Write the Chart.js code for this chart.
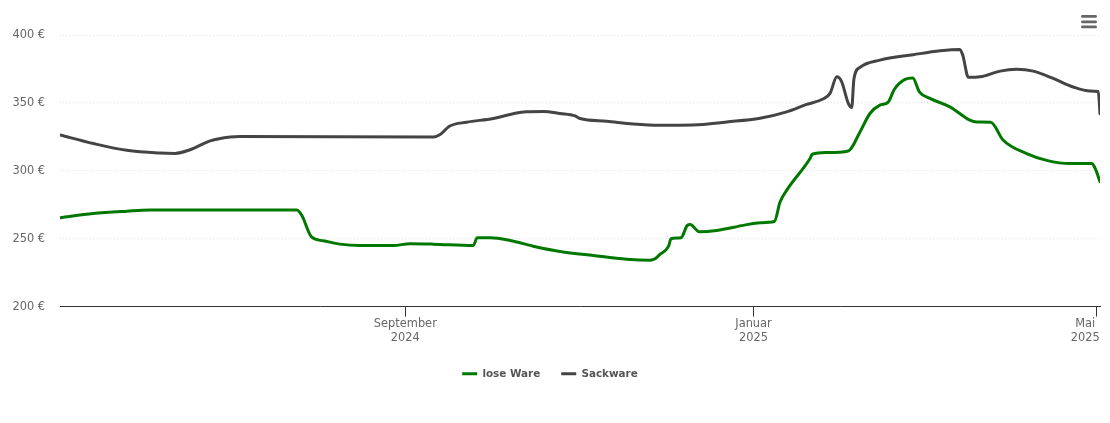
<!DOCTYPE html>
<html lang="de">
<head>
<meta charset="utf-8">
<title>Preisentwicklung</title>
<script src="https://cdn.jsdelivr.net/npm/chart.js@4"></script>
<style>
    html, body { margin: 0; background: #fff; }
    #wrap { width: 1110px; height: 423px; }
</style>
</head>
<body>
<div id="wrap"><canvas id="price-chart" width="1110" height="423"></canvas></div>
<script>
// x values are days counted from 1 September 2024
var looseDays = [-121, -109.4, -97.5, -89.5, -38, -36.3, -32.8, -28.8, -22.9, -15.9, -4.2, 1.6, 9.7, 23.8, 25.2, 29.7, 36.7, 44.8, 54.2, 65.9,
    77.6, 85.7, 87.5, 89.2, 92.2, 93.1, 96.6, 98.8, 99.8, 103, 109.1, 118.4, 124.3, 129.3, 131.3, 133.6, 141.8, 142.6, 147.6, 155.2,
    159.3, 162.8, 166.3, 169.2, 171.3, 175.1, 177.8, 180.1, 183.8, 190.8, 197.8, 200.2, 205.1, 209.5, 217.7, 224.7, 232.9, 240.5, 241.7, 243.4];
var looseValues = [265.5, 268.6, 270.3, 271.1, 271.1, 267.2, 251.1, 248.5, 246, 245, 245, 246.3, 246, 245, 250.7, 250.7, 248.7, 244.5, 240.6, 237.6,
    234.9, 234.2, 235.2, 238.4, 244.3, 250, 250.7, 259.8, 260.5, 255.1, 256.1, 259.8, 261.8, 262.7, 277, 285.6, 309, 312.2, 313.4, 314.6,
    328.6, 342.2, 348.3, 350.6, 359.9, 367.3, 368.3, 358.2, 353.3, 347.1, 337.3, 336, 335.8, 322.5, 312.7, 307.7, 305.3, 305.3, 301.8, 292];

var sackDays = [-121, -109.3, -97.6, -86, -80.7, -75.4, -68.4, -61.4, -58, 9.8, 12.2, 15.4, 21.5, 30.8, 36.7, 42.5, 48.4, 54.2, 59.5, 61.2,
    70.6, 79.9, 89.2, 100.9, 112.6, 124.3, 133.6, 140.6, 146.5, 148.8, 151.2, 152.9, 155.2, 156.4, 157.2, 159.3, 166.3, 178, 187.4, 194.3,
    195.3, 197.3, 201.4, 208.4, 214.2, 220, 227, 234, 239.9, 242.8, 243.4];
var sackValues = [326.4, 320.1, 315.1, 313.1, 312.8, 315.5, 322, 324.9, 325.2, 324.9, 326.7, 332.8, 335.8, 338.5, 341.5, 343.4, 343.7, 342.2, 340.4, 338.5,
    336.5, 334.5, 333.6, 333.8, 336, 338.7, 343.4, 348.9, 353, 357, 369.2, 365.5, 349.6, 346.6, 368, 376.2, 381.5, 385.5, 388.4, 389.4,
    385.2, 368.8, 369.2, 373.4, 374.7, 373.4, 368, 361.7, 358.7, 358.4, 342];

var seriesNames = ['lose Ware', 'Sackware'];
var yTicks = [200, 250, 300, 350, 400];
var xTicks = [0, 122, 242];
var xTickLabels = [
    ['September', '2024'],
    ['Januar', '2025'],
    ['Mai\u00a0\u00a0\u00a0\u00a0\u00a0\u00a0', '2025\u00a0\u00a0\u00a0\u00a0\u00a0\u00a0']
];

function toPoints(days, values) {
    return days.map(function (d, i) {
        return { x: d, y: values[i] };
    });
}

// the burger button top right
var menuIcon = {
    id: 'menuIcon',
    afterDraw: function (chart) {
        var ctx = chart.ctx;
        ctx.save();
        ctx.fillStyle = '#666666';
        [15, 20.5, 25.5].forEach(function (top) {
            ctx.beginPath();
            ctx.roundRect(1081, top, 16, 2.8, 1.4);
            ctx.fill();
        });
        ctx.restore();
    }
};

var tickFont = { family: '"DejaVu Sans", Verdana, sans-serif', size: 11.4 };

var config = {
    type: 'line',
    data: {
        datasets: [{
            label: seriesNames[0],
            data: toPoints(looseDays, looseValues),
            borderColor: '#007800',
            backgroundColor: '#007800',
            borderWidth: 3
        }, {
            label: seriesNames[1],
            data: toPoints(sackDays, sackValues),
            borderColor: '#444444',
            backgroundColor: '#444444',
            borderWidth: 3
        }]
    },
    options: {
        responsive: false,
        animation: false,
        parsing: false,
        layout: { padding: { top: 35, right: 10, bottom: 34, left: 0 } },
        elements: {
            point: { radius: 0 },
            line: { cubicInterpolationMode: 'monotone', borderCapStyle: 'round', borderJoinStyle: 'round' }
        },
        plugins: {
            tooltip: { enabled: false },
            legend: {
                position: 'bottom',
                labels: {
                    usePointStyle: true,
                    pointStyle: 'line',
                    pointStyleWidth: 15,
                    padding: 21,
                    color: '#555555',
                    font: { family: '"DejaVu Sans", Verdana, sans-serif', size: 10.4, weight: 'bold' }
                }
            }
        },
        scales: {
            x: {
                type: 'linear',
                min: -121,
                max: 243.4,
                afterBuildTicks: function (scale) {
                    scale.ticks = xTicks.map(function (v) { return { value: v }; });
                },
                afterFit: function (scale) {
                    scale.paddingLeft = 0;
                    scale.paddingRight = 0;
                    scale.height = 41;
                },
                grid: { drawOnChartArea: false, drawTicks: true, tickLength: 10, tickColor: '#333333' },
                border: { color: '#333333' },
                ticks: {
                    autoSkip: false,
                    maxRotation: 0,
                    padding: 1,
                    color: '#666666',
                    font: tickFont,
                    callback: function (value) {
                        return xTickLabels[xTicks.indexOf(value)];
                    }
                }
            },
            y: {
                min: 200,
                max: 400,
                afterBuildTicks: function (scale) {
                    scale.ticks = yTicks.map(function (v) { return { value: v }; });
                },
                afterFit: function (scale) {
                    scale.width = 60;
                },
                grid: { color: '#e3e3e3', drawTicks: false },
                border: { display: false, dash: [1, 2] },
                ticks: {
                    padding: 15,
                    color: '#666666',
                    font: tickFont,
                    callback: function (value) {
                        return value + ' €';
                    }
                }
            }
        }
    },
    plugins: [menuIcon]
};

var ctx = document.getElementById('price-chart').getContext('2d');
window.priceChart = new Chart(ctx, config);
</script>
</body>
</html>
